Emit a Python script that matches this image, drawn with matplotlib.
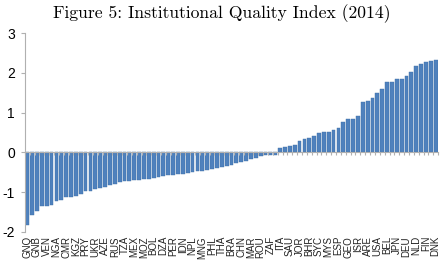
import numpy as np
import matplotlib
matplotlib.use("Agg")
from matplotlib import pyplot as plt
from matplotlib.transforms import blended_transform_factory, offset_copy

# Institutional quality index, 2014, sorted ascending (85 countries)
values = [-1.83, -1.58, -1.48, -1.36, -1.35, -1.33, -1.23, -1.21, -1.12, -1.12,
          -1.10, -1.04, -0.98, -0.96, -0.91, -0.89, -0.88, -0.83, -0.79, -0.75,
          -0.73, -0.71, -0.70, -0.69, -0.68, -0.67, -0.64, -0.62, -0.60, -0.57,
          -0.56, -0.55, -0.55, -0.52, -0.50, -0.48, -0.46, -0.44, -0.42, -0.40,
          -0.37, -0.34, -0.31, -0.28, -0.25, -0.21, -0.17, -0.14, -0.08, -0.07,
          -0.07, -0.06,
          0.10, 0.125, 0.17, 0.18, 0.28, 0.33, 0.35, 0.40, 0.475, 0.51,
          0.52, 0.56, 0.62, 0.77, 0.83, 0.85, 0.92, 1.27, 1.30, 1.37,
          1.48, 1.58, 1.76, 1.76, 1.85, 1.85, 1.91, 2.03, 2.18, 2.23,
          2.27, 2.29, 2.31]

# only every other country is labelled on the axis
tick_labels = ["GNQ", "GNB", "VEN", "NGA", "CMR", "KGZ", "PRY", "UKR", "AZE", "RUS",
               "TZA", "MEX", "MOZ", "BOL", "DZA", "PER", "IDN", "NPL", "MNG", "PHL",
               "THA", "BRA", "CHN", "MAR", "ROU", "ZAF", "ITA", "SAU", "JOR", "BHR",
               "SYC", "MYS", "ESP", "GEO", "ISR", "ARE", "USA", "BEL", "JPN", "DEU",
               "NLD", "FIN", "DNK"]
y_ticks = [-2, -1, 0, 1, 2, 3]

x = np.arange(len(values))

fig = plt.figure(figsize=(4.43, 2.62), dpi=100)
ax = fig.add_axes([0.056, 0.115, 0.933, 0.759])

ax.bar(x, values, width=0.78, color="#4F81BD", edgecolor="#3F6FA8", linewidth=0.3)

ax.set_xlim(-0.5, len(values) - 0.5)
ax.set_ylim(-2, 3)
ax.set_yticks(y_ticks)
ax.set_yticklabels([str(t) for t in y_ticks], family="Liberation Sans", fontsize=10)

for s in ["top", "right"]:
    ax.spines[s].set_visible(False)
ax.spines["left"].set_color("#B0B0B0")
ax.spines["bottom"].set_position(("data", 0))
ax.spines["bottom"].set_color("#B0B0B0")
ax.tick_params(axis="y", direction="out", length=3, color="#B0B0B0", pad=4)
ax.set_xticks(np.arange(-0.5, len(values), 1.0))
ax.tick_params(axis="x", direction="out", length=2, color="#B0B0B0", labelbottom=False)

# category labels sit below the plot area, not at the zero line
trans = offset_copy(blended_transform_factory(ax.transData, ax.transAxes),
                    fig=fig, y=-3, units="points")
for xi, lab in zip(x[::2], tick_labels):
    ax.text(xi, 0, lab, transform=trans, rotation=90, ha="center", va="top",
            family="Liberation Sans", fontsize=7, color="#222222", clip_on=False)

fig.text(0.5, 0.985, "Figure 5: Institutional Quality Index (2014)",
         ha="center", va="top", family="cmr10", fontsize=12.7)

fig.savefig("out.png", dpi=100)
